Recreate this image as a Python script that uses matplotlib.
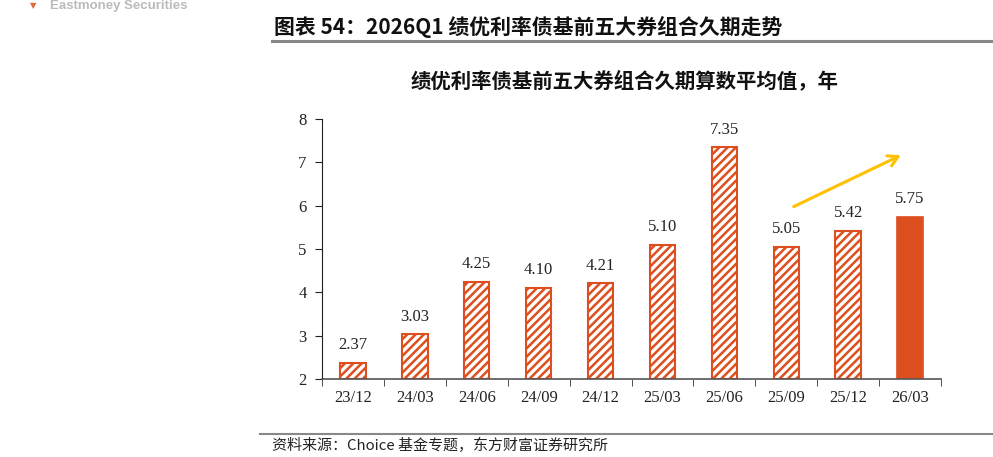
import matplotlib
matplotlib.use("Agg")
import matplotlib.pyplot as plt
import numpy as np
from matplotlib.lines import Line2D

categories = ["23/12", "24/03", "24/06", "24/09", "24/12", "25/03", "25/06", "25/09", "25/12", "26/03"]
values = [2.37, 3.03, 4.25, 4.10, 4.21, 5.10, 7.35, 5.05, 5.42, 5.75]
labels = ["2.37", "3.03", "4.25", "4.10", "4.21", "5.10", "7.35", "5.05", "5.42", "5.75"]
yticks = [2, 3, 4, 5, 6, 7, 8]

CJK = ["Noto Sans CJK SC", "DejaVu Sans"]
SERIF = ["Liberation Serif", "DejaVu Serif"]
RED = "#DD4F1E"

plt.rcParams["hatch.linewidth"] = 1.8
plt.rcParams["hatch.color"] = RED

W, H = 993, 457
fig = plt.figure(figsize=(W / 100, H / 100), dpi=100)

ax = fig.add_axes([322 / W, 1 - 379 / H, (941 - 322) / W, (379 - 119) / H])
x = np.arange(len(categories))
for i, v in enumerate(values):
    if i == len(values) - 1:
        ax.bar(x[i], v - 2, bottom=2, width=0.41, color=RED, edgecolor=RED, linewidth=1.2)
    else:
        ax.bar(x[i], v - 2, bottom=2, width=0.41, color="white", edgecolor=RED,
               linewidth=1.5, hatch="////")
    ax.text(x[i], v + 0.22, labels[i], ha="center", va="bottom",
            fontsize=12, family=SERIF, color="#222222")

ax.set_xlim(-0.5, len(categories) - 0.5)
ax.set_ylim(2, 8)
ax.set_yticks(yticks)
ax.set_yticklabels([str(t) for t in yticks], family=SERIF, fontsize=12)
ax.set_xticks(x)
ax.set_xticklabels(categories, family=SERIF, fontsize=12)
ax.set_xticks(np.arange(len(categories) + 1) - 0.5, minor=True)
ax.tick_params(axis="x", which="major", length=0, pad=8, colors="#222222")
ax.tick_params(axis="x", which="minor", length=5, direction="out", color="#333333")
ax.tick_params(axis="y", length=5, direction="out", pad=6, colors="#222222")
for s in ["top", "right"]:
    ax.spines[s].set_visible(False)
ax.spines["left"].set_color("#222222")
ax.spines["bottom"].set_color("#555555")
ax.spines["bottom"].set_linewidth(1.2)

# trend arrow
ax.annotate("", xy=(8.89, 7.19), xytext=(7.08, 5.95),
            arrowprops=dict(arrowstyle="->,head_length=0.7,head_width=0.4",
                            color="#FFC000", lw=2.2))

# header
fig.text(50 / W, 1 - 0.5 / H, "Eastmoney Securities", fontsize=9.5, fontweight="bold",
         color="#BBBBBB", ha="left", va="top", family=["Liberation Sans", "DejaVu Sans"])
fig.text(30 / W, 1 - 6 / H, "▼", fontsize=6, color="#E06A3A", ha="left", va="center",
         family=["DejaVu Sans"])
fig.text(274 / W, 1 - 27 / H, "图表 54：2026Q1 绩优利率债基前五大券组合久期走势", fontsize=15,
         fontweight="bold", family=CJK, ha="left", va="center", color="#111111")
fig.add_artist(Line2D([272 / W, 1.0], [1 - 40.5 / H, 1 - 40.5 / H], color="#888888", lw=2.2))

fig.text(625 / W, 1 - 81 / H, "绩优利率债基前五大券组合久期算数平均值，年", fontsize=14.7,
         fontweight="bold", family=CJK, ha="center", va="center", color="#111111")

# footer
fig.add_artist(Line2D([260 / W, 1.0], [1 - 433.5 / H, 1 - 433.5 / H], color="#888888", lw=1.5))
fig.text(272 / W, 1 - 445 / H, "资料来源：Choice 基金专题，东方财富证券研究所", fontsize=10.8,
         family=CJK, ha="left", va="center", color="#222222")

fig.savefig("out.png", dpi=100)
